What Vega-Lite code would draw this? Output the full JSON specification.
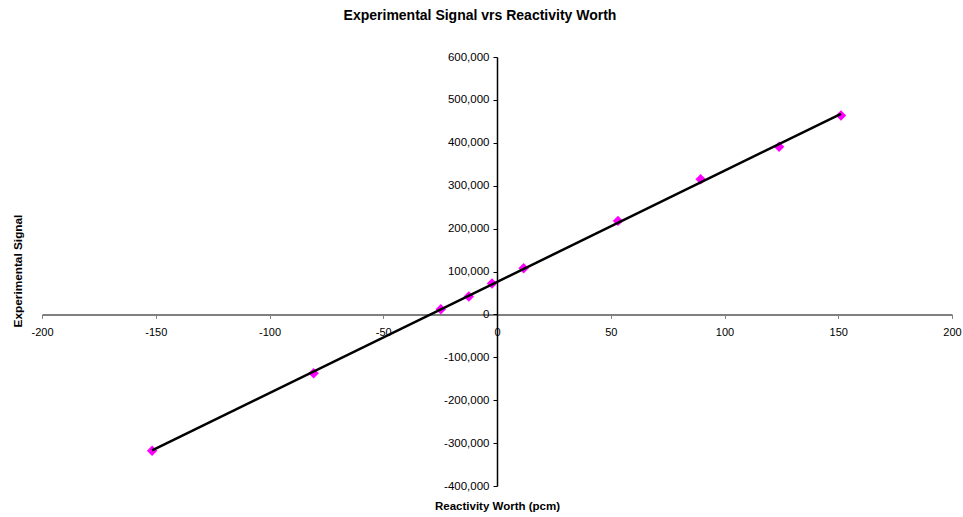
{
  "$schema": "https://vega.github.io/schema/vega-lite/v6.json",
  "width": 910,
  "height": 429,
  "autosize": "none",
  "padding": {"left": 42, "top": 57, "right": 11, "bottom": 31},
  "background": "white",
  "title": {
    "text": "Experimental Signal vrs Reactivity Worth",
    "font": "Liberation Sans",
    "fontSize": 14,
    "fontWeight": "bold",
    "color": "black",
    "anchor": "middle",
    "offset": 28,
    "dx": -17
  },
  "config": {
    "font": "Liberation Sans",
    "locale": {"number": {"decimal": ".", "thousands": ",", "grouping": [3], "currency": ["$", ""], "minus": "-"}},
    "view": {"stroke": null},
    "axis": {"grid": false, "labelFlush": false, "labelOverlap": false, "labelColor": "black", "titleColor": "black"}
  },
  "data": {
    "values": [
      {"reactivity": -151.6, "signal": -317700},
      {"reactivity": -80.6, "signal": -137000},
      {"reactivity": -24.7, "signal": 12000},
      {"reactivity": -12.4, "signal": 41500},
      {"reactivity": -2.2, "signal": 71800},
      {"reactivity": 11.7, "signal": 107700},
      {"reactivity": 53.2, "signal": 218000},
      {"reactivity": 89.5, "signal": 315000},
      {"reactivity": 124.0, "signal": 391000},
      {"reactivity": 151.2, "signal": 463700}
    ]
  },
  "layer": [
    {
      "mark": {"type": "point", "shape": "diamond", "filled": true, "color": "#FF00FF", "size": 110, "opacity": 1},
      "encoding": {
        "x": {
          "field": "reactivity", "type": "quantitative",
          "scale": {"domain": [-200, 200], "nice": false, "zero": false},
          "axis": {
            "orient": "bottom", "offset": -171.6, "title": null,
            "values": [-200, -150, -100, -50, 0, 50, 100, 150, 200],
            "format": ",.0f",
            "domainColor": "#808080", "domainWidth": 2,
            "tickColor": "#808080", "tickWidth": 1, "tickSize": 4,
            "labelFontSize": 11, "labelPadding": 8
          }
        },
        "y": {
          "field": "signal", "type": "quantitative",
          "scale": {"domain": [-400000, 600000], "nice": false, "zero": false},
          "axis": {
            "orient": "left", "offset": -455, "title": null,
            "values": [-400000, -300000, -200000, -100000, 0, 100000, 200000, 300000, 400000, 500000, 600000],
            "format": ",.0f",
            "domainColor": "black", "domainWidth": 1.5,
            "tickColor": "black", "tickWidth": 1, "tickSize": 4,
            "labelFontSize": 11.5, "labelPadding": 4
          }
        }
      }
    },
    {
      "transform": [{"regression": "signal", "on": "reactivity"}],
      "mark": {"type": "line", "color": "black", "strokeWidth": 2.5},
      "encoding": {
        "x": {
          "field": "reactivity", "type": "quantitative",
          "axis": {
            "orient": "bottom", "domain": false, "ticks": false, "labels": false,
            "title": "Reactivity Worth (pcm)",
            "titleFontSize": 11.5, "titleFontWeight": "bold",
            "titleX": 455, "titleY": 20, "titleBaseline": "middle", "titleAlign": "center"
          }
        },
        "y": {
          "field": "signal", "type": "quantitative",
          "axis": {
            "orient": "left", "domain": false, "ticks": false, "labels": false,
            "title": "Experimental Signal",
            "titleFontSize": 11.8, "titleFontWeight": "bold",
            "titleX": -24.3, "titleY": 213.5, "titleAngle": -90,
            "titleBaseline": "middle", "titleAlign": "center"
          }
        }
      }
    }
  ],
  "resolve": {"axis": {"x": "independent", "y": "independent"}}
}
